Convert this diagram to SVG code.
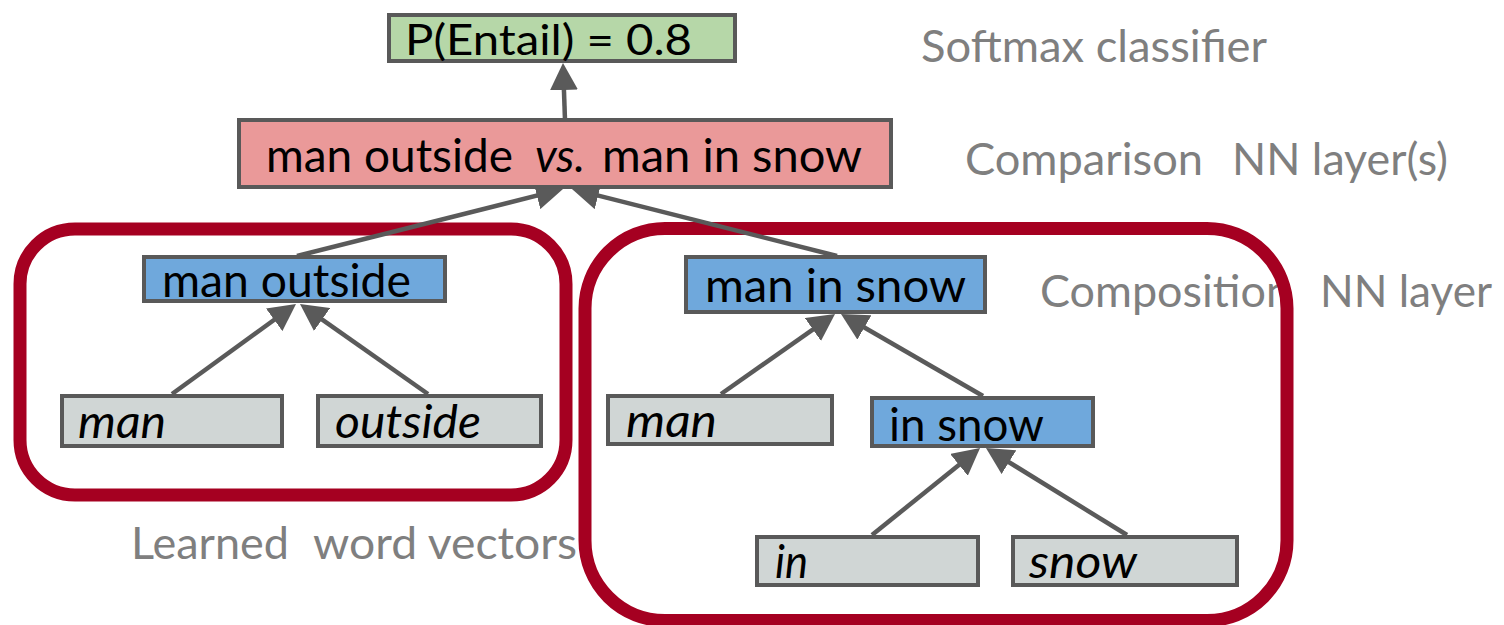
<svg xmlns="http://www.w3.org/2000/svg" width="1504" height="625" viewBox="0 0 1504 625">
  <defs>
    <marker id="arrow" markerUnits="userSpaceOnUse" markerWidth="28" markerHeight="28" refX="15" refY="14" orient="auto">
      <path d="M0,0 L27,14 L0,28 z" fill="#5a5a5a"/>
    </marker>
    <style>
      .label { font-family: Lato, "Open Sans", sans-serif; font-size: 44px; fill: #7f7f7f; }
      .node rect { stroke: #595959; stroke-width: 4; }
      .node text { font-family: Lato, "Open Sans", sans-serif; font-size: 47px; fill: #000; }
      .node text.word { font-style: italic; font-size: 46px; }
      .green { fill: #b6d7a8; }
      .pink { fill: #ea9999; }
      .blue { fill: #6fa8dc; }
      .grey { fill: #d0d6d5; }
      .frame { fill: none; stroke: #a50021; stroke-width: 13; }
      .edge { fill: none; stroke: #5a5a5a; stroke-width: 4.5; marker-end: url(#arrow); }
    </style>
  </defs>

  <rect width="1504" height="625" fill="#ffffff"/>

  <!-- side labels -->
  <g id="labels">
    <text class="label" x="921" y="62" textLength="346" lengthAdjust="spacingAndGlyphs">Softmax classifier</text>
    <text class="label" x="965" y="175" textLength="238" lengthAdjust="spacingAndGlyphs">Comparison</text>
    <text class="label" x="1232" y="175" textLength="216" lengthAdjust="spacingAndGlyphs">NN layer(s)</text>
    <text class="label" x="1040" y="307" textLength="251" lengthAdjust="spacingAndGlyphs">Composition</text>
    <text class="label" x="1320" y="307" textLength="172" lengthAdjust="spacingAndGlyphs">NN layer</text>
    <text class="label" x="131" y="559" textLength="158" lengthAdjust="spacingAndGlyphs">Learned</text>
    <text class="label" x="313" y="559" textLength="264" lengthAdjust="spacingAndGlyphs">word vectors</text>
  </g>

  <!-- composition frames -->
  <g id="frames">
    <rect id="frame-left" class="frame" x="20" y="229" width="546" height="266" rx="55" ry="55"/>
    <rect id="frame-right" class="frame" x="585" y="228.5" width="702" height="392" rx="80" ry="80"/>
  </g>

  <!-- connectors -->
  <g id="connectors">
    <line class="edge" x1="565" y1="120" x2="563.4" y2="75"/>
    <line class="edge" x1="297" y1="256" x2="551.4" y2="191.9"/>
    <line class="edge" x1="837" y1="256" x2="583.6" y2="191.9"/>
    <line class="edge" x1="172" y1="394" x2="286.3" y2="311.0"/>
    <line class="edge" x1="428" y1="394" x2="309.8" y2="310.9"/>
    <line class="edge" x1="721" y1="394" x2="825.2" y2="320.9"/>
    <line class="edge" x1="983" y1="396" x2="851.4" y2="320"/>
    <line class="edge" x1="872" y1="535" x2="970.7" y2="455.5"/>
    <line class="edge" x1="1127" y1="535" x2="996.2" y2="454.3"/>
  </g>

  <!-- nodes -->
  <g id="softmax" class="node">
    <rect class="green" x="389" y="15" width="346" height="46"/>
    <text x="405" y="55" font-size="42" style="font-size:42px" textLength="287" lengthAdjust="spacingAndGlyphs">P(Entail) = 0.8</text>
  </g>

  <g id="comparison" class="node">
    <rect class="pink" x="239" y="120" width="652" height="67"/>
    <text x="266" y="172" textLength="247" lengthAdjust="spacingAndGlyphs">man outside</text>
    <text x="535" y="172" font-style="italic" style="font-style:italic" textLength="50" lengthAdjust="spacingAndGlyphs">vs.</text>
    <text x="602" y="172" textLength="260" lengthAdjust="spacingAndGlyphs">man in snow</text>
  </g>

  <g id="man-outside" class="node">
    <rect class="blue" x="144" y="257" width="301" height="44"/>
    <text x="162" y="297" textLength="249" lengthAdjust="spacingAndGlyphs">man outside</text>
  </g>

  <g id="word-man-left" class="node">
    <rect class="grey" x="62" y="396" width="220" height="50"/>
    <text class="word" x="78" y="438" textLength="88" lengthAdjust="spacingAndGlyphs">man</text>
  </g>

  <g id="word-outside" class="node">
    <rect class="grey" x="318" y="396" width="223" height="50"/>
    <text class="word" x="335" y="438" textLength="146" lengthAdjust="spacingAndGlyphs">outside</text>
  </g>

  <g id="man-in-snow" class="node">
    <rect class="blue" x="686" y="257" width="299" height="55"/>
    <text x="705" y="302" textLength="261" lengthAdjust="spacingAndGlyphs">man in snow</text>
  </g>

  <g id="word-man-right" class="node">
    <rect class="grey" x="608" y="396" width="224" height="48"/>
    <text class="word" x="626" y="437" textLength="91" lengthAdjust="spacingAndGlyphs">man</text>
  </g>

  <g id="in-snow" class="node">
    <rect class="blue" x="872" y="398" width="221" height="48"/>
    <text x="889" y="441" textLength="155" lengthAdjust="spacingAndGlyphs">in snow</text>
  </g>

  <g id="word-in" class="node">
    <rect class="grey" x="757" y="537" width="221" height="48"/>
    <text class="word" x="775" y="578" textLength="33" lengthAdjust="spacingAndGlyphs">in</text>
  </g>

  <g id="word-snow" class="node">
    <rect class="grey" x="1013" y="537" width="224" height="48"/>
    <text class="word" x="1029" y="578" textLength="108" lengthAdjust="spacingAndGlyphs">snow</text>
  </g>
</svg>
